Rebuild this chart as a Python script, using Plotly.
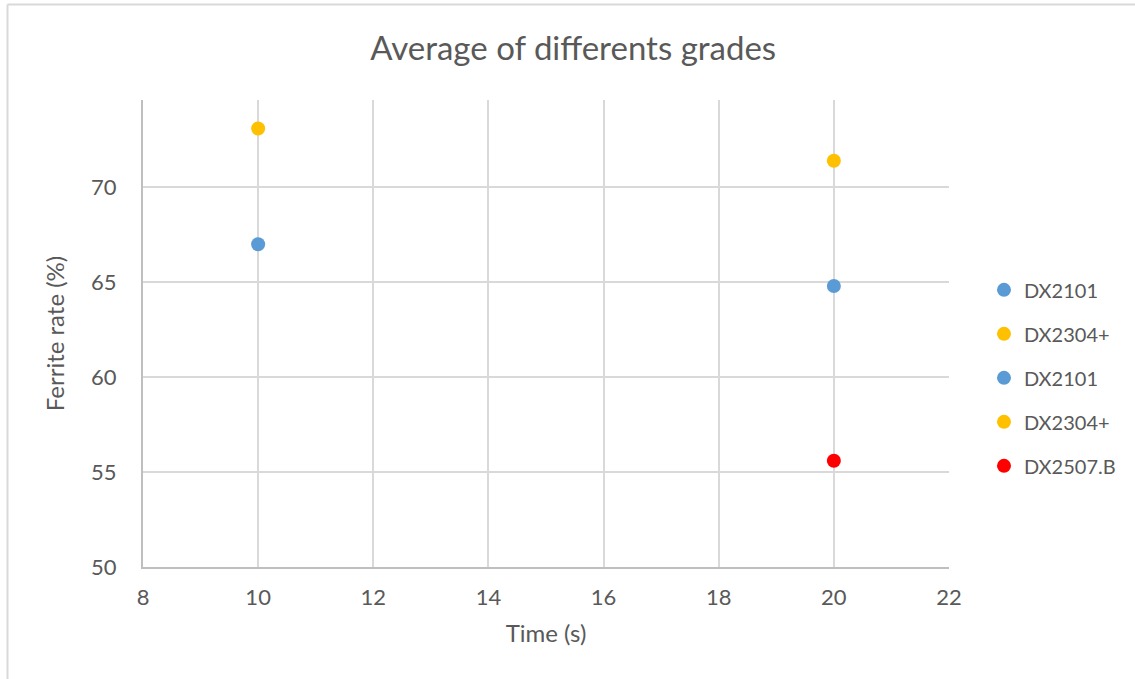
import plotly.graph_objects as go

series_names = ["DX2101", "DX2304+", "DX2101", "DX2304+", "DX2507.B"]
series_x = [[10], [10], [20], [20], [20]]
series_y = [[67.0], [73.1], [64.8], [71.4], [55.6]]
series_colors = ["#5B9BD5", "#FFC000", "#5B9BD5", "#FFC000", "#FF0000"]

x_ticks = [8, 10, 12, 14, 16, 18, 20, 22]
y_ticks = [50, 55, 60, 65, 70]

FONT = "Lato, 'Open Sans', sans-serif"
TXT = "#595959"

fig = go.Figure()
for i, (n, xs, ys, c) in enumerate(zip(series_names, series_x, series_y, series_colors)):
    fig.add_trace(go.Scatter(
        x=xs, y=ys, mode="markers", name=n, legendgroup=f"g{i}",
        marker=dict(color=c, size=14, line=dict(width=0)),
    ))

fig.update_layout(
    width=1135, height=679,
    paper_bgcolor="white", plot_bgcolor="white",
    margin=dict(l=143, r=186, t=100, b=112),
    title=dict(text="Average of differents grades", x=0.505, xanchor="center",
               y=0.929, yanchor="middle", font=dict(family=FONT, size=33, color=TXT)),
    font=dict(family=FONT, color=TXT),
    legend=dict(x=1.0434, xanchor="left", y=0.405, yanchor="middle",
                font=dict(family=FONT, size=20, color=TXT),
                tracegroupgap=15, itemsizing="trace", bgcolor="rgba(0,0,0,0)"),
    showlegend=True,
)
fig.update_xaxes(
    range=[8, 22], tickvals=x_ticks, showgrid=True, gridcolor="#d9d9d9", gridwidth=2,
    showline=True, linecolor="#bfbfbf", linewidth=2, zeroline=False,
    tickfont=dict(family=FONT, size=22, color=TXT), ticklabelstandoff=10,
    title=dict(text="Time (s)", font=dict(family=FONT, size=24, color=TXT), standoff=16),
)
fig.update_yaxes(
    range=[50, 74.6], tickvals=y_ticks, showgrid=True, gridcolor="#d9d9d9", gridwidth=2,
    showline=True, linecolor="#bfbfbf", linewidth=2, zeroline=False,
    tickfont=dict(family=FONT, size=22, color=TXT), ticklabelstandoff=20,
    title=dict(text="Ferrite rate (%)", font=dict(family=FONT, size=24, color=TXT), standoff=20),
)
# outer chart frame (top and left edges visible)
fig.add_shape(type="line", xref="paper", yref="paper",
              x0=(7.5 - 143) / 806, x1=1.3, y0=(567 - 4.5) / 467, y1=(567 - 4.5) / 467,
              line=dict(color="#d9d9d9", width=2))
fig.add_shape(type="line", xref="paper", yref="paper",
              x0=(7.5 - 143) / 806, x1=(7.5 - 143) / 806, y0=(567 - 4.5) / 467, y1=-0.3,
              line=dict(color="#d9d9d9", width=2))

fig.write_html("out.html")
